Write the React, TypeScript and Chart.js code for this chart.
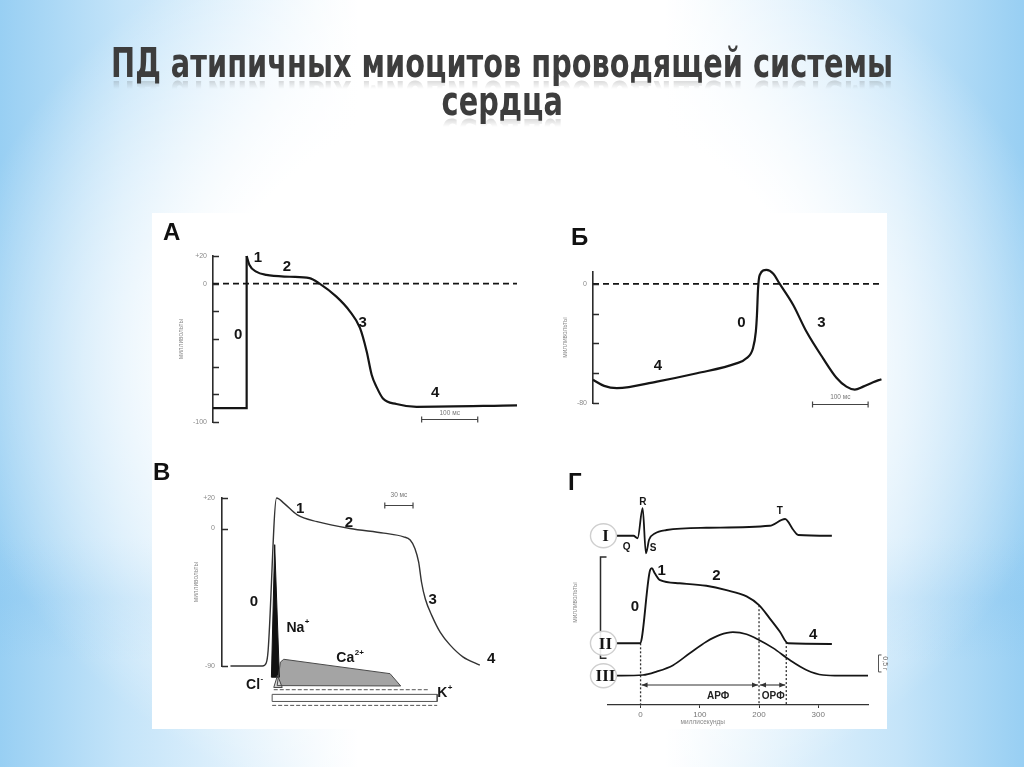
import React, { useEffect, useRef } from 'react';
import { Chart, registerables } from 'chart.js';

Chart.register(...registerables);

const FONT = "'Liberation Sans', 'DejaVu Sans', Arial, sans-serif";
const SERIF = "'Liberation Serif', 'DejaVu Serif', serif";
const TITLE_FONT = "'DejaVu Sans', 'Liberation Sans', sans-serif";
const INK = '#151515';
const AXIS = '#2b2b2b';
const GREY_TEXT = '#8a8a8a';

// ---------- Panel А ----------
const A_UP_T = [-60, 0, 0];
const A_UP_MV = [-90, -90, 20];
const A_REPOL_T = [0, 5, 17, 35, 77, 112, 130, 160, 184, 202, 214, 223, 232, 243, 267, 303, 482];
const A_REPOL_MV = [20, 13.5, 8.7, 6.3, 5, 4, 0, -9.4, -20, -32, -49, -66, -75, -83, -87, -89, -88];
const A_ZERO_T = [-60, 482];
const A_ZERO_MV = [0, 0];
const A_TICKS = [-100, -80, -60, -40, -20, 0, 20];
const A_TICK_LABELS = ['-100', '', '', '', '', '0', '+20'];
const A_PHASE = ['0', '1', '2', '3', '4'];
const A_PHASE_T = [-15, 20, 72, 207, 336];
const A_PHASE_MV = [-37, 19, 12, -28, -79];
const A_BAR_T = [312, 412];
const A_BAR_MV = -98;

// ---------- Panel Б ----------
const B_T = [0, 20, 43, 115, 187, 258, 276, 288, 293, 295, 297, 300, 312, 324, 336, 360, 384, 414, 438, 456, 471, 486, 504, 519];
const B_MV = [-64.4, -68.5, -70, -65.6, -60, -53.4, -50, -43, -32, -21, -3, 6, 9.4, 7, 0, -14, -32, -50, -63, -69, -71, -69, -66, -64];
const B_ZERO_T = [0, 520];
const B_ZERO_MV = [0, 0];
const B_TICKS = [-80, -60, -40, -20, 0];
const B_TICK_LABELS = ['-80', '', '', '', '0'];
const B_PHASE = ['0', '3', '4'];
const B_PHASE_T = [267, 411, 117];
const B_PHASE_MV = [-26.4, -26.4, -54.8];
const B_BAR_T = [395, 495];
const B_BAR_MV = -80.7;

// ---------- Panel В ----------
const V_T = [-39, -5, -1, 1, 10, 18, 32, 53, 88, 124, 145, 152, 157, 161, 164, 168, 175, 184, 194, 208, 226];
const V_MV = [-90, -90, -88, -80, 20, 16.5, 9, 4.5, 0, -3, -5.4, -7.5, -13, -22, -35, -46, -57, -68, -76, -84, -89.5];
const V_TICKS = [-90, 0, 20];
const V_TICK_LABELS = ['-90', '0', '+20'];
const V_PHASE = ['0', '1', '2', '3', '4'];
const V_PHASE_T = [-14, 35, 87, 176, 238];
const V_PHASE_MV = [-48, 13, 3.6, -47, -85.6];
const V_BAR_T = [125, 155];
const V_BAR_MV = 15.4;
// ion currents (arbitrary units)
const V_NA_T = [4.5, 8, 13, 4.5];
const V_NA_I = [4, 75, 4, 4];
const V_CA_T = [10.6, 14.1, 17.6, 130.6, 141.9, 10.6];
const V_CA_I = [-0.5, 12.1, 13.6, 5.9, -0.7, -0.5];
const V_CL_T = [7, 11, 16, 7];
const V_CL_I = [-1.5, 5, -1.5, -1.5];
const V_K1_T = [7, 171];
const V_K1_I = [-2.7, -2.7];
const V_K2_T = [5.3, 180.7, 180.7, 5.3, 5.3];
const V_K2_I = [-5.2, -5.2, -9, -9, -5.2];
const V_K3_T = [5.3, 180.7];
const V_K3_I = [-11.1, -11.1];
const V_IONS = ['Na', 'Ca', 'Cl', 'K'];
const V_ION_SUP = ['+', '2+', '-', '+'];
const V_ION_T = [30, 83, -15, 186];
const V_ION_MV = [-65.2, -85, -102.6, -107.9];

// ---------- Panel Г ----------
const G_ECG_T = [-40, -12, -5, 3.5, 9, 14.5, 24, 44, 111, 218, 244, 258, 266, 323];
const G_ECG_MV = [0, 0, -0.1, 1.1, -0.7, -0.15, 0.09, 0.23, 0.32, 0.4, 0.67, 0.23, 0.03, 0];
const G_AP_T = [-40, -1, 2, 16, 19, 24, 33, 66, 111, 145, 179, 200, 218, 235, 249, 323];
const G_AP_MV = [-90, -90, -82, 27, 30, 22, 11, 6, 2, -5, -15, -29, -50, -71, -90, -91];
const G_F_T = [-43, 4, 27, 55, 83, 111, 134, 156, 179, 200, 224, 252, 280, 308, 337, 384];
const G_F_G = [0, 0.02, 0.12, 0.31, 0.66, 1.0, 1.2, 1.28, 1.22, 1.05, 0.81, 0.46, 0.17, 0.02, 0, 0];
const G_MARK_T = [0, 200, 246];
const G_MARK_MV = [-90, -29, -88];
const G_X_TICKS = [0, 100, 200, 300];
const G_X_TICK_LABELS = ['0', '100', '200', '300'];
const G_ECG_LABELS = ['R', 'Q', 'S', 'T'];
const G_ECG_LABEL_T = [4, -23.6, 21.3, 235];
const G_ECG_LABEL_MV = [1.35, -0.44, -0.5, 0.99];
const G_PHASE = ['0', '1', '2', '4'];
const G_PHASE_T = [-9.6, 35.5, 128, 291.6];
const G_PHASE_MV = [-31.4, 25.7, 18.2, -76.7];
const G_ROMAN = ['I', 'II', 'III'];
const G_ROMAN_T = -61;
const G_AP_BRACKET = [48, -114];
const G_REFRACT = ['АРФ', 'ОРФ'];
const G_REFRACT_LABEL_T = [131, 224];
const G_FORCE_BAR = [0.11, 0.61];
const G_FORCE_BAR_T = 401;

const G_AP_RANGE = [-188.7, 139.3];
const G_ECG_RANGE = [-6.77, 1.43];
const G_F_RANGE = [-0.862, 5.168];
const V_CUR_RANGE = [10, 100];

// ---------- helpers ----------
const pts = (xs: number[], ys: number[]) => xs.map((x, i) => ({ x, y: ys[i] }));
const STRAIGHT = { cubicInterpolationMode: 'default', tension: 0 };

function curve(xs: number[], ys: number[], extra: any = {}) {
  return {
    data: pts(xs, ys),
    borderColor: INK,
    borderWidth: 2.2,
    pointRadius: 0,
    pointHoverRadius: 0,
    fill: false,
    clip: false,
    cubicInterpolationMode: 'monotone',
    ...extra,
  };
}

const common: any = {
  responsive: false,
  animation: false,
  devicePixelRatio: 1,
  events: [],
  plugins: { legend: { display: false }, tooltip: { enabled: false } },
};

function yAxis(min: number, max: number, values: number[], labels: string[], width: number, pad: number) {
  return {
    type: 'linear',
    position: 'left',
    min,
    max,
    afterBuildTicks: (s: any) => {
      s.ticks = values.map((v) => ({ value: v }));
    },
    afterFit: (s: any) => {
      s.width = width;
    },
    grid: { display: false, drawTicks: false },
    border: { display: true, color: AXIS, width: 1.6 },
    ticks: {
      autoSkip: false,
      padding: pad,
      color: GREY_TEXT,
      font: { family: FONT, size: 7 },
      callback: (v: number) => labels[values.indexOf(v)] ?? '',
    },
    title: {
      display: true,
      text: 'милливольты',
      color: GREY_TEXT,
      font: { family: FONT, size: 6.5 },
      padding: { top: 4, bottom: 0 },
    },
  };
}

function inwardTicks(chart: any, yId: string, values: number[], len = 6) {
  const { ctx, chartArea } = chart;
  const sy = chart.scales[yId];
  ctx.save();
  ctx.strokeStyle = AXIS;
  ctx.lineWidth = 1.4;
  ctx.beginPath();
  for (const v of values) {
    const y = Math.round(sy.getPixelForValue(v)) + 0.5;
    ctx.moveTo(chartArea.left, y);
    ctx.lineTo(chartArea.left + len, y);
  }
  ctx.stroke();
  ctx.restore();
}

function drawLabels(chart: any, yId: string, texts: string[], xs: number[], ys: number[], font: string, color = INK) {
  const { ctx } = chart;
  const sx = chart.scales.x;
  const sy = chart.scales[yId];
  ctx.save();
  ctx.font = font;
  ctx.fillStyle = color;
  ctx.textAlign = 'center';
  ctx.textBaseline = 'middle';
  texts.forEach((t, i) => ctx.fillText(t, sx.getPixelForValue(xs[i]), sy.getPixelForValue(ys[i])));
  ctx.restore();
}

function drawScaleBar(chart: any, yId: string, ts: number[], v: number, label: string, textOffset: number) {
  const { ctx } = chart;
  const sx = chart.scales.x;
  const sy = chart.scales[yId];
  const x0 = sx.getPixelForValue(ts[0]);
  const x1 = sx.getPixelForValue(ts[1]);
  const y = Math.round(sy.getPixelForValue(v)) + 0.5;
  ctx.save();
  ctx.strokeStyle = '#444';
  ctx.lineWidth = 1.2;
  ctx.beginPath();
  ctx.moveTo(x0, y);
  ctx.lineTo(x1, y);
  ctx.moveTo(x0, y - 3);
  ctx.lineTo(x0, y + 3);
  ctx.moveTo(x1, y - 3);
  ctx.lineTo(x1, y + 3);
  ctx.stroke();
  ctx.fillStyle = '#777';
  ctx.font = `6.5px ${FONT}`;
  ctx.textAlign = 'center';
  ctx.textBaseline = 'middle';
  ctx.fillText(label, (x0 + x1) / 2, y - textOffset);
  ctx.restore();
}

// fill closed shapes (below the chart area too) from the library's computed points
function fillShapes(chart: any) {
  const { ctx } = chart;
  chart.data.datasets.forEach((ds: any, i: number) => {
    if (!ds.shapeFill) return;
    const meta = chart.getDatasetMeta(i);
    ctx.save();
    ctx.beginPath();
    meta.data.forEach((p: any, j: number) => (j ? ctx.lineTo(p.x, p.y) : ctx.moveTo(p.x, p.y)));
    ctx.closePath();
    ctx.fillStyle = ds.shapeFill;
    ctx.fill();
    ctx.restore();
  });
}

const PHASE_FONT = `bold 15px ${FONT}`;

// ---------- configs ----------
function configA(): any {
  return {
    type: 'line',
    data: {
      datasets: [
        curve(A_UP_T, A_UP_MV, STRAIGHT),
        curve(A_REPOL_T, A_REPOL_MV),
        curve(A_ZERO_T, A_ZERO_MV, { ...STRAIGHT, borderDash: [6, 4], borderWidth: 1.8 }),
      ],
    },
    options: {
      ...common,
      layout: { padding: { left: 21, top: 41, right: 15, bottom: 28 } },
      scales: {
        x: { type: 'linear', display: false, min: -60, max: 482 },
        y: yAxis(-100, 20, A_TICKS, A_TICK_LABELS, 40, 6),
      },
    },
    plugins: [
      {
        id: 'decorA',
        afterDatasetsDraw(chart: any) {
          inwardTicks(chart, 'y', A_TICKS);
          drawLabels(chart, 'y', A_PHASE, A_PHASE_T, A_PHASE_MV, PHASE_FONT);
          drawScaleBar(chart, 'y', A_BAR_T, A_BAR_MV, '100 мс', 6);
        },
      },
    ],
  };
}

function configB(): any {
  return {
    type: 'line',
    data: {
      datasets: [
        curve(B_T, B_MV),
        curve(B_ZERO_T, B_ZERO_MV, { ...STRAIGHT, borderDash: [6, 4], borderWidth: 1.8 }),
      ],
    },
    options: {
      ...common,
      layout: { padding: { left: 17, top: 57, right: 8, bottom: 47 } },
      scales: {
        x: { type: 'linear', display: false, min: 0, max: 520 },
        y: yAxis(-80, 8, B_TICKS, B_TICK_LABELS, 36, 6),
      },
    },
    plugins: [
      {
        id: 'decorB',
        afterDatasetsDraw(chart: any) {
          inwardTicks(chart, 'y', B_TICKS);
          drawLabels(chart, 'y', B_PHASE, B_PHASE_T, B_PHASE_MV, PHASE_FONT);
          drawScaleBar(chart, 'y', B_BAR_T, B_BAR_MV, '100 мс', 7);
        },
      },
    ],
  };
}

function configV(): any {
  const onCur = { yAxisID: 'yC', ...STRAIGHT };
  return {
    type: 'line',
    data: {
      datasets: [
        curve(V_CA_T, V_CA_I, { ...onCur, shapeFill: '#a4a4a4', borderColor: '#4a4a4a', borderWidth: 1 }),
        curve(V_CL_T, V_CL_I, { ...onCur, shapeFill: '#d8d8d8', borderColor: '#444', borderWidth: 1 }),
        curve(V_K1_T, V_K1_I, { ...onCur, borderColor: '#555', borderWidth: 1, borderDash: [4, 2] }),
        curve(V_K2_T, V_K2_I, { ...onCur, borderColor: '#555', borderWidth: 1 }),
        curve(V_K3_T, V_K3_I, { ...onCur, borderColor: '#555', borderWidth: 1, borderDash: [4, 2] }),
        curve(V_T, V_MV, { borderColor: '#333', borderWidth: 1.4 }),
        curve(V_NA_T, V_NA_I, { ...onCur, shapeFill: '#111', borderColor: '#111', borderWidth: 1 }),
      ],
    },
    options: {
      ...common,
      layout: { padding: { left: 36, top: 43, right: 39, bottom: 64 } },
      scales: {
        x: { type: 'linear', display: false, min: -48, max: 240 },
        y: yAxis(-90, 20, V_TICKS, V_TICK_LABELS, 34, 7),
        yC: { type: 'linear', display: false, min: V_CUR_RANGE[0], max: V_CUR_RANGE[1] },
      },
    },
    plugins: [
      {
        id: 'decorV',
        beforeDatasetsDraw(chart: any) {
          fillShapes(chart);
        },
        afterDatasetsDraw(chart: any) {
          inwardTicks(chart, 'y', V_TICKS);
          drawLabels(chart, 'y', V_PHASE, V_PHASE_T, V_PHASE_MV, PHASE_FONT);
          drawScaleBar(chart, 'y', V_BAR_T, V_BAR_MV, '30 мс', 10);
          const { ctx } = chart;
          const sx = chart.scales.x;
          const sy = chart.scales.y;
          ctx.save();
          ctx.fillStyle = INK;
          V_IONS.forEach((base, i) => {
            const x = sx.getPixelForValue(V_ION_T[i]);
            const y = sy.getPixelForValue(V_ION_MV[i]);
            ctx.font = `bold 14px ${FONT}`;
            const w = ctx.measureText(base).width;
            ctx.textAlign = 'left';
            ctx.textBaseline = 'middle';
            ctx.fillText(base, x - w / 2, y);
            ctx.font = `bold 8px ${FONT}`;
            ctx.fillText(V_ION_SUP[i], x + w / 2 + 0.5, y - 6);
          });
          ctx.restore();
        },
      },
    ],
  };
}

function configG(): any {
  return {
    type: 'line',
    data: {
      datasets: [
        curve(G_ECG_T, G_ECG_MV, { yAxisID: 'yECG', borderWidth: 1.8 }),
        curve(G_AP_T, G_AP_MV, { yAxisID: 'yAP', borderWidth: 1.9 }),
        curve(G_F_T, G_F_G, { yAxisID: 'yF', borderWidth: 1.7 }),
        ...G_MARK_T.map((t, i) =>
          curve([t, t], [G_MARK_MV[i], G_AP_RANGE[0]], {
            yAxisID: 'yAP',
            ...STRAIGHT,
            borderWidth: 1.3,
            borderColor: '#333',
            borderDash: [2, 2],
          })
        ),
      ],
    },
    options: {
      ...common,
      layout: { padding: { left: 27, top: 45, right: 22, bottom: 1 } },
      scales: {
        x: {
          type: 'linear',
          position: 'bottom',
          min: -55,
          max: 384,
          afterBuildTicks: (s: any) => {
            s.ticks = G_X_TICKS.map((v) => ({ value: v }));
          },
          afterFit: (s: any) => {
            s.height = 24;
          },
          grid: { display: true, drawOnChartArea: false, drawTicks: true, tickLength: 3, color: '#333', lineWidth: 1 },
          border: { display: true, color: '#333', width: 1.3 },
          ticks: {
            autoSkip: false,
            maxRotation: 0,
            padding: 2,
            color: '#777',
            font: { family: FONT, size: 8 },
            callback: (v: number) => G_X_TICK_LABELS[G_X_TICKS.indexOf(v)] ?? '',
          },
        },
        yAP: {
          type: 'linear',
          position: 'left',
          min: G_AP_RANGE[0],
          max: G_AP_RANGE[1],
          afterFit: (s: any) => {
            s.width = 41;
          },
          grid: { display: false, drawTicks: false },
          border: { display: false },
          ticks: { display: false },
          title: {
            display: true,
            text: 'милливольты',
            color: GREY_TEXT,
            font: { family: FONT, size: 6.5 },
            padding: { top: 4, bottom: 0 },
          },
        },
        yECG: { type: 'linear', display: false, min: G_ECG_RANGE[0], max: G_ECG_RANGE[1] },
        yF: { type: 'linear', display: false, min: G_F_RANGE[0], max: G_F_RANGE[1] },
      },
    },
    plugins: [
      {
        id: 'decorG',
        afterDatasetsDraw(chart: any) {
          const { ctx, chartArea } = chart;
          const { x, yAP, yECG, yF } = chart.scales;
          ctx.save();
          // millivolt bracket for trace II
          const bx = Math.round(chartArea.left - 8) + 0.5;
          const bt = yAP.getPixelForValue(G_AP_BRACKET[0]);
          const bb = yAP.getPixelForValue(G_AP_BRACKET[1]);
          ctx.strokeStyle = AXIS;
          ctx.lineWidth = 1.5;
          ctx.beginPath();
          ctx.moveTo(bx + 6, bt);
          ctx.lineTo(bx, bt);
          ctx.lineTo(bx, bb);
          ctx.lineTo(bx + 6, bb);
          ctx.stroke();

          // roman numerals in circles
          const rx = x.getPixelForValue(G_ROMAN_T);
          const ry = [yECG.getPixelForValue(0), yAP.getPixelForValue(G_AP_MV[0]), yF.getPixelForValue(0)];
          G_ROMAN.forEach((r, i) => {
            ctx.fillStyle = 'rgba(255,255,255,0.9)';
            ctx.strokeStyle = '#cfcfcf';
            ctx.lineWidth = 1.4;
            ctx.beginPath();
            ctx.ellipse(rx - 1, ry[i], 13, 12, 0, 0, Math.PI * 2);
            ctx.fill();
            ctx.stroke();
            ctx.fillStyle = INK;
            ctx.font = `bold 17px ${SERIF}`;
            ctx.textAlign = 'center';
            ctx.textBaseline = 'middle';
            ctx.fillText(r, rx + 1, ry[i] + 1);
          });

          // refractory arrows
          const ay = yF.getPixelForValue(G_F_RANGE[0]) - 20;
          ctx.strokeStyle = '#333';
          ctx.fillStyle = '#333';
          ctx.lineWidth = 1.1;
          for (let i = 0; i < G_MARK_T.length - 1; i++) {
            const x0 = x.getPixelForValue(G_MARK_T[i]) + 1;
            const x1 = x.getPixelForValue(G_MARK_T[i + 1]) - 1;
            ctx.beginPath();
            ctx.moveTo(x0, ay);
            ctx.lineTo(x1, ay);
            ctx.stroke();
            ctx.beginPath();
            ctx.moveTo(x0, ay);
            ctx.lineTo(x0 + 6, ay - 2.5);
            ctx.lineTo(x0 + 6, ay + 2.5);
            ctx.closePath();
            ctx.moveTo(x1, ay);
            ctx.lineTo(x1 - 6, ay - 2.5);
            ctx.lineTo(x1 - 6, ay + 2.5);
            ctx.closePath();
            ctx.fill();
          }
          ctx.font = `bold 10px ${FONT}`;
          ctx.fillStyle = '#222';
          ctx.textAlign = 'center';
          ctx.textBaseline = 'middle';
          G_REFRACT.forEach((s, i) => ctx.fillText(s, x.getPixelForValue(G_REFRACT_LABEL_T[i]), ay + 11));

          // 0,5 г force scale
          const fx = Math.round(x.getPixelForValue(G_FORCE_BAR_T)) + 0.5;
          const f0 = yF.getPixelForValue(G_FORCE_BAR[0]);
          const f1 = yF.getPixelForValue(G_FORCE_BAR[1]);
          ctx.strokeStyle = '#555';
          ctx.lineWidth = 1;
          ctx.beginPath();
          ctx.moveTo(fx + 3, f1);
          ctx.lineTo(fx, f1);
          ctx.lineTo(fx, f0);
          ctx.lineTo(fx + 3, f0);
          ctx.stroke();
          ctx.save();
          ctx.translate(fx + 6, (f0 + f1) / 2);
          ctx.rotate(Math.PI / 2);
          ctx.fillStyle = '#666';
          ctx.font = `7px ${FONT}`;
          ctx.fillText('0,5 г', 0, 0);
          ctx.restore();

          // x axis title
          ctx.fillStyle = GREY_TEXT;
          ctx.font = `6.5px ${FONT}`;
          ctx.fillText('миллисекунды', x.getPixelForValue(105), chartArea.bottom + 17);
          ctx.restore();

          drawLabels(chart, 'yECG', G_ECG_LABELS, G_ECG_LABEL_T, G_ECG_LABEL_MV, `bold 10px ${FONT}`);
          drawLabels(chart, 'yAP', G_PHASE, G_PHASE_T, G_PHASE_MV, PHASE_FONT);
        },
      },
    ],
  };
}

function ChartBox({ left, top, width, height, make }: any) {
  const ref = useRef<HTMLCanvasElement>(null);
  useEffect(() => {
    const chart = new Chart(ref.current as HTMLCanvasElement, make());
    return () => chart.destroy();
  }, []);
  return (
    <canvas
      ref={ref}
      width={width}
      height={height}
      style={{ position: 'absolute', left, top, width, height }}
    />
  );
}

const reflect = {
  display: 'inline-block',
  whiteSpace: 'nowrap',
  transform: 'scaleX(0.72)',
  WebkitBoxReflect: 'below -6px linear-gradient(transparent 66%, rgba(255,255,255,0.3))',
} as any;

const letterStyle = (left: number, top: number): any => ({
  position: 'absolute',
  left,
  top,
  fontFamily: FONT,
  fontWeight: 900,
  fontSize: 24,
  lineHeight: '24px',
  color: '#111',
});

export default function App() {
  return (
    <div
      style={{
        position: 'absolute',
        left: 0,
        top: 0,
        width: 1024,
        height: 767,
        overflow: 'hidden',
        background:
          'radial-gradient(ellipse 55% 62% at 50% 47%, rgba(255,255,255,1) 55%, rgba(255,255,255,0) 100%),' +
          'linear-gradient(180deg, rgba(255,255,255,0) 70%, rgba(130,195,240,0.25) 78%, rgba(255,255,255,0) 86%),' +
          'linear-gradient(90deg, #98cff3 0%, #c4e4f9 12%, #ffffff 35%, #ffffff 65%, #c4e4f9 88%, #98cff3 100%)',
      }}
    >
      <div
        style={{
          position: 'absolute',
          left: -298,
          top: 44,
          width: 1600,
          textAlign: 'center',
          whiteSpace: 'nowrap',
          fontFamily: TITLE_FONT,
          fontWeight: 700,
          fontSize: 40,
          lineHeight: '38px',
          color: '#3d3d3d',
        }}
      >
        <span style={reflect}>ПД атипичных миоцитов проводящей системы</span>
        <br />
        <span style={reflect}>сердца</span>
      </div>

      <div style={{ position: 'absolute', left: 152, top: 213, width: 735, height: 516, background: '#ffffff' }} />

      <ChartBox left={152} top={215} width={380} height={235} make={configA} />
      <ChartBox left={540} top={215} width={350} height={235} make={configB} />
      <ChartBox left={152} top={455} width={380} height={275} make={configV} />
      <ChartBox left={540} top={455} width={350} height={275} make={configG} />

      <div style={letterStyle(163, 220)}>А</div>
      <div style={letterStyle(571, 225)}>Б</div>
      <div style={letterStyle(153, 460)}>В</div>
      <div style={letterStyle(568, 470)}>Г</div>
    </div>
  );
}
